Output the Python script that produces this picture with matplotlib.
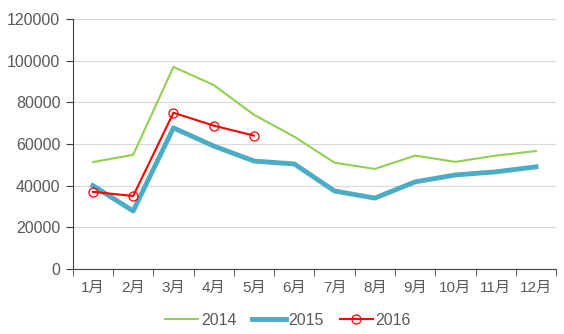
import matplotlib
matplotlib.use("Agg")
import matplotlib.pyplot as plt
import numpy as np

plt.rcParams['font.family'] = ['Liberation Sans', 'Noto Sans CJK SC', 'DejaVu Sans']

# datos
meses = ['1月', '2月', '3月', '4月', '5月', '6月', '7月', '8月', '9月', '10月', '11月', '12月']
v2014 = [51300, 54800, 97000, 88300, 74000, 63500, 51000, 48000, 54400, 51400, 54400, 56600]
v2015 = [40000, 27800, 67700, 59000, 51800, 50400, 37400, 34000, 41800, 45100, 46600, 49000]
v2016 = [37000, 35000, 75000, 68800, 64000]

gris = '#595959'

fig = plt.figure(figsize=(5.64, 3.34), dpi=100)
ax = fig.add_axes([0.129, 0.195, 0.857, 0.748])

x = np.arange(len(meses))
ax.plot(x, v2014, color='#92d050', lw=1.5, label='2014')
ax.plot(x, v2015, color='#4bacc6', lw=3.5, label='2015')
ax.plot(x[:len(v2016)], v2016, color='#ff0000', lw=1.5, marker='o', ms=6.5,
        mfc='none', mec='#ff0000', mew=0.9, label='2016')

ax.set_xlim(-0.5, len(meses) - 0.5)
ax.set_ylim(0, 120000)
ax.set_yticks(range(0, 120001, 20000))
ax.set_xticks(x)
ax.set_xticklabels(meses)
ax.set_xticks(np.arange(-0.5, len(meses), 1), minor=True)
ax.tick_params(axis='x', which='major', length=0, pad=9, labelsize=11, labelcolor=gris)
ax.tick_params(axis='x', which='minor', length=5, color='#404040', direction='out')
ax.tick_params(axis='y', length=5, color='#404040', labelsize=11.5, labelcolor=gris, pad=4)

ax.grid(axis='y', color='#d9d9d9', lw=0.8)
ax.set_axisbelow(True)
for s in ['top', 'right']:
    ax.spines[s].set_visible(False)
ax.spines['left'].set_color('#404040')
ax.spines['bottom'].set_color('#404040')

leg = ax.legend(loc='center', bbox_to_anchor=(0.445, -0.205), ncol=3, frameon=False,
                fontsize=11.5, handlelength=2.1, columnspacing=1.0, handletextpad=0.15)
for t in leg.get_texts():
    t.set_color(gris)

fig.savefig('out.png', dpi=100)
